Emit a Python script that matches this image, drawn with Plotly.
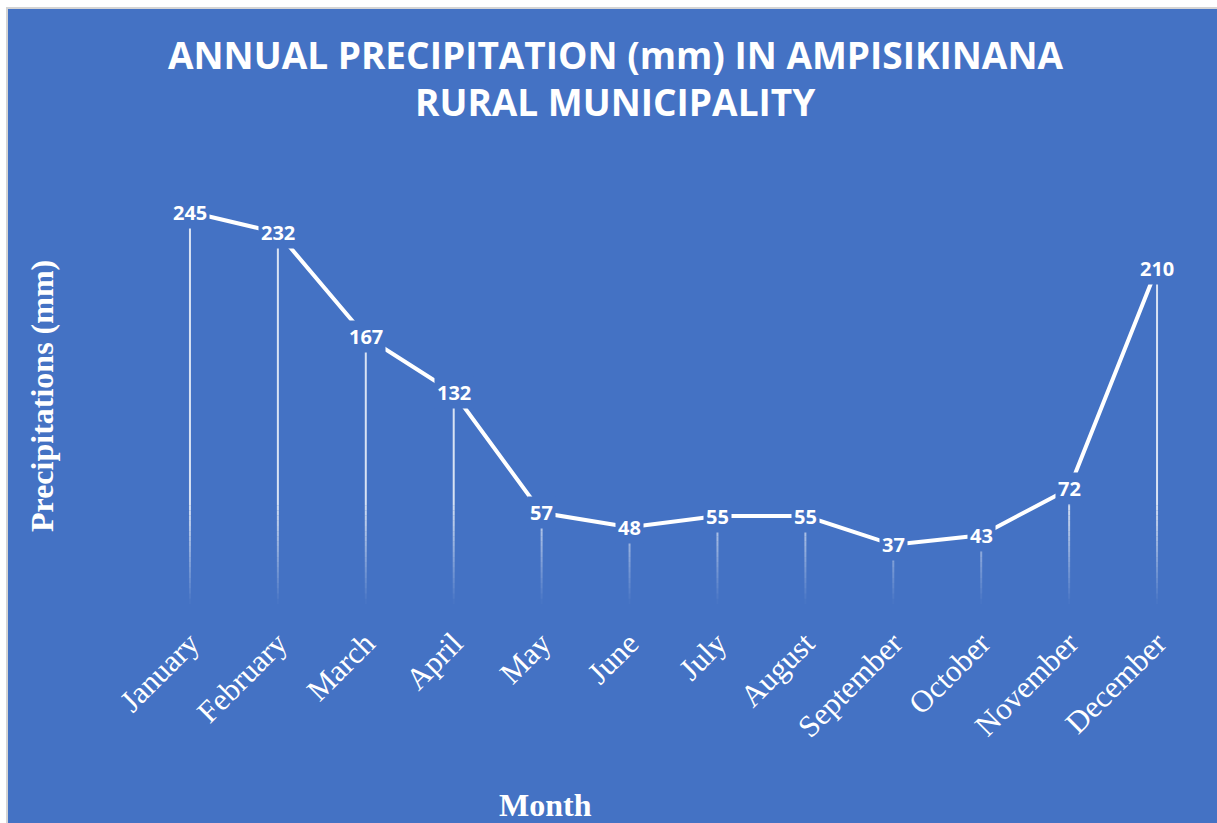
import plotly.graph_objects as go

# Monthly rainfall, Ampisikinana rural municipality
months = ["January", "February", "March", "April", "May", "June",
          "July", "August", "September", "October", "November", "December"]
rain_mm = [245, 232, 167, 132, 57, 48, 55, 55, 37, 43, 72, 210]

BLUE = "#4472C4"
W, H = 1217, 823
ML, MR, MT, MB = 146, 16, 124, 219
PW, PH = W - ML - MR, H - MT - MB


def px_to_paper_x(px):
    return (px - ML) / PW


def px_to_paper_y(py):
    return (H - MB - py) / PH


fig = go.Figure()

# Drop lines from each point to the axis, fading out towards the bottom
solid_floor = 65
fade_steps = 20
step = solid_floor / fade_steps
bands = [(solid_floor, 10_000, 0.8)]
for i in range(fade_steps):
    lo = solid_floor - (i + 1) * step
    hi = solid_floor - i * step
    bands.append((lo, hi, 0.8 * (fade_steps - i - 0.5) / fade_steps))

for lo, hi, op in bands:
    xs, ys = [], []
    for m, v in zip(months, rain_mm):
        if v > lo:
            xs += [m, m, None]
            ys += [lo, min(hi, v), None]
    if xs:
        fig.add_trace(go.Scatter(
            x=xs, y=ys, mode="lines",
            line=dict(color="white", width=2),
            opacity=op, hoverinfo="skip", showlegend=False,
        ))

# Main precipitation line
fig.add_trace(go.Scatter(
    x=months, y=rain_mm, mode="lines",
    line=dict(color="white", width=4),
    showlegend=False,
))

# Value labels centred on the points
for m, v in zip(months, rain_mm):
    fig.add_annotation(
        x=m, y=v, text=f"<b>{v}</b>", showarrow=False,
        font=dict(family="Open Sans", size=20, color="white"),
        bgcolor=BLUE, borderpad=2,
    )

# Title
title_font = dict(family="Open Sans", size=37, color="white")
fig.add_annotation(
    x=px_to_paper_x(615), y=px_to_paper_y(54), xref="paper", yref="paper",
    text="<b>ANNUAL PRECIPITATION (mm) IN AMPISIKINANA</b>",
    showarrow=False, font=title_font, xanchor="center", yanchor="middle",
)
fig.add_annotation(
    x=px_to_paper_x(615), y=px_to_paper_y(101), xref="paper", yref="paper",
    text="<b>RURAL MUNICIPALITY</b>",
    showarrow=False, font=title_font, xanchor="center", yanchor="middle",
)

# Axis titles
axis_title_font = dict(family="Liberation Serif", size=32, color="white")
fig.add_annotation(
    x=px_to_paper_x(42), y=px_to_paper_y(396), xref="paper", yref="paper",
    text="<b>Precipitations (mm)</b>", textangle=-90,
    showarrow=False, font=axis_title_font, xanchor="center", yanchor="middle",
)
fig.add_annotation(
    x=px_to_paper_x(545), y=px_to_paper_y(805), xref="paper", yref="paper",
    text="<b>Month</b>",
    showarrow=False, font=axis_title_font, xanchor="center", yanchor="middle",
)

# Blue chart area with a thin grey frame
fig.add_shape(
    type="rect", xref="paper", yref="paper", layer="below",
    x0=px_to_paper_x(7), x1=px_to_paper_x(W + 5),
    y0=px_to_paper_y(H + 5), y1=px_to_paper_y(8),
    fillcolor=BLUE, line=dict(color="#d4d4d4", width=2),
)

fig.update_layout(
    width=W, height=H,
    margin=dict(l=ML, r=MR, t=MT, b=MB),
    paper_bgcolor="white",
    plot_bgcolor="rgba(0,0,0,0)",
    showlegend=False,
    xaxis=dict(
        type="category", categoryorder="array", categoryarray=months,
        range=[-0.5, len(months) - 0.5],
        showgrid=False, zeroline=False, showline=False, ticks="",
        tickangle=-45, ticklabelstandoff=14,
        tickfont=dict(family="Liberation Serif", size=31, color="white"),
    ),
    yaxis=dict(
        range=[0, 300], visible=False, showgrid=False, zeroline=False,
    ),
)

fig.write_html("out.html")
